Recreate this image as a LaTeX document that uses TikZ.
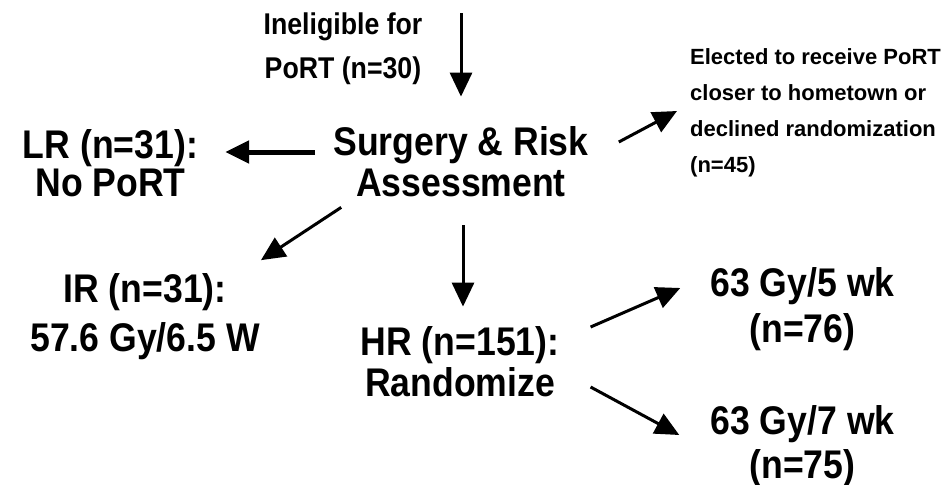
\documentclass[tikz,border=0pt]{standalone}
\usepackage{fontspec}
\setmainfont{Liberation Sans}[FakeStretch=0.89]
\newfontfamily\widefont{Liberation Sans}
\usetikzlibrary{arrows.meta, calc}

\begin{document}
\begin{tikzpicture}[x=1pt, y=-1pt,
    txt/.style={inner sep=0pt, align=center, font=\bfseries\fontsize{40}{41}\selectfont},
    arr/.style={line width=3pt, -{Triangle[length=24pt, width=22pt]}}]
    \useasboundingbox (0, 0) rectangle (946, 485);

    \node[txt, font=\bfseries\fontsize{30}{43.5}\selectfont] (inel) at (343, 48.7) {Ineligible for\\PoRT (n=30)};
    \node[txt] (surg) at (461, 162) {Surgery \& Risk\\Assessment};
    \node[txt, font=\bfseries\fontsize{40}{38}\selectfont] (lr) at (110.5, 163.5) {LR (n=31):\\No PoRT};
    \node[txt, anchor=west, align=left, font=\widefont\bfseries\fontsize{22}{36}\selectfont] (elect) at (690, 113)
        {Elected to receive PoRT\\closer to hometown or\\declined randomization\\(n=45)};
    \node[txt, font=\bfseries\fontsize{40}{49}\selectfont] (ir) at (145, 316.5) {IR (n=31):\\57.6 Gy/6.5 W};
    \node[txt] (hr) at (460, 362) {HR (n=151):\\Randomize};
    \node[txt, font=\bfseries\fontsize{40}{46}\selectfont] (g5) at (802.5, 309) {63 Gy/5 wk\\(n=76)};
    \node[txt, font=\bfseries\fontsize{40}{44}\selectfont] (g7) at (802.5, 446) {63 Gy/7 wk\\(n=75)};

    \coordinate (entry) at (461, 13);

    \draw[arr] (entry) -- ($(surg.north)+(0, -30)$);
    \draw[arr, line width=5pt] ($(surg.west)+(-18, -10)$) -- ($(lr.east)+(27, -11.5)$);
    \draw[arr] ($(surg.east)+(30, -20)$) -- ($(elect.west)+(-13, -2)$);
    \draw[arr] ($(surg.south west)+(8, 10)$) -- ($(ir.north east)+(1, -13)$);
    \draw[arr] ($(surg.south)+(2, 28)$) -- ($(surg.south |- hr.north)+(2, -20)$);
    \draw[arr] ($(hr.east)+(31, -35)$) -- ($(g5.west)+(-30, -21)$);
    \draw[arr] ($(hr.east)+(31, 25)$) -- ($(g7.west)+(-31, -11)$);
\end{tikzpicture}
\end{document}
